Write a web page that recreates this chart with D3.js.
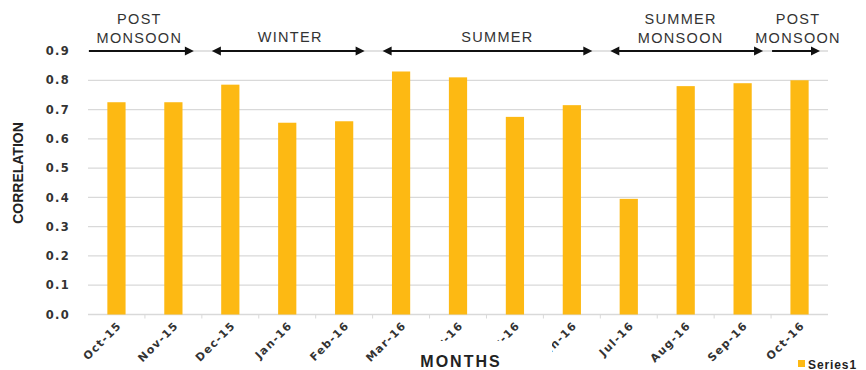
<!DOCTYPE html>
<html>
<head>
<meta charset="utf-8">
<script src="https://cdn.jsdelivr.net/npm/d3@7/dist/d3.min.js"></script>
<style>
  html, body { margin: 0; padding: 0; background: #fff; }
  svg { display: block; }
</style>
</head>
<body>
<svg id="chart" width="866" height="370"></svg>
<script>
// ---- data ----
const months = ["Oct-15","Nov-15","Dec-15","Jan-16","Feb-16","Mar-16","Apr-16","May-16","Jun-16","Jul-16","Aug-16","Sep-16","Oct-16"];
const correlation = [0.725,0.725,0.785,0.655,0.66,0.83,0.81,0.675,0.715,0.395,0.78,0.79,0.80];
const yTicks = [0,0.1,0.2,0.3,0.4,0.5,0.6,0.7,0.8,0.9];
const seasonNames = [["POST","MONSOON"],["WINTER"],["SUMMER"],["SUMMER","MONSOON"],["POST","MONSOON"]];
const seasonStart = ["Oct-15","Dec-15","Mar-16","Jul-16","Oct-16"];
const seasonEnd = ["Nov-15","Feb-16","Jun-16","Sep-16","Oct-16"];
const seasonBothHeads = [false,true,true,true,false];
const seriesName = "Series1";
const xTitle = "MONTHS";
const yTitle = "CORRELATION";

// ---- layout ----
const svg = d3.select("#chart");
const plot = {left: 88, right: 828, top: 51, bottom: 314.5};
const barColor = "#FDB913";
const gridColor = "#d9d9d9";
const seasonLabelDx = [-2, 2, 10, -6, 2];

const x = d3.scaleBand().domain(months).range([plot.left, plot.right]).paddingInner(0.68).paddingOuter(0.34);
const xCell = d3.scaleBand().domain(months).range([plot.left, plot.right]).padding(0);
const y = d3.scaleLinear().domain([0, 0.9]).range([plot.bottom, plot.top]);

// gridlines
svg.append("g").selectAll("line").data(yTicks).join("line")
  .attr("x1", plot.left).attr("x2", plot.right)
  .attr("y1", d => y(d)).attr("y2", d => y(d))
  .attr("stroke", gridColor).attr("stroke-width", 1.3);

// y tick labels
const yAxis = d3.axisLeft(y).tickValues(yTicks).tickFormat(d3.format(".1f")).tickSize(0).tickPadding(0);
const gy = svg.append("g").attr("transform", `translate(70,0)`).call(yAxis);
gy.select(".domain").remove();
gy.selectAll("text")
  .attr("font-family", "DejaVu Sans").attr("font-weight", "bold")
  .attr("font-size", 11.5).attr("letter-spacing", 1.3).attr("fill", "#333");

// bars
svg.append("g").selectAll("rect").data(months).join("rect")
  .attr("x", d => x(d))
  .attr("width", x.bandwidth())
  .attr("y", (d, i) => y(correlation[i]))
  .attr("height", (d, i) => y(0) - y(correlation[i]))
  .attr("fill", barColor);

// x axis category boundary ticks
svg.append("g").selectAll("line").data(months.slice(1)).join("line")
  .attr("x1", d => xCell(d)).attr("x2", d => xCell(d))
  .attr("y1", plot.bottom).attr("y2", plot.bottom + 4)
  .attr("stroke", gridColor).attr("stroke-width", 1);

// x labels rotated
svg.append("g").selectAll("text").data(months).join("text")
  .attr("transform", d => `translate(${x(d) + x.bandwidth() / 2 + 3},${plot.bottom + 9}) rotate(-45)`)
  .attr("text-anchor", "end")
  .attr("dy", "0.35em")
  .attr("font-family", "DejaVu Sans").attr("font-weight", "bold")
  .attr("font-size", 11).attr("letter-spacing", 1.3).attr("fill", "#333")
  .text(d => d);

// x title with white background
svg.append("rect").attr("x", 405).attr("y", 341).attr("width", 147).attr("height", 29).attr("fill", "#fff");
svg.append("text")
  .attr("x", 461).attr("y", 367).attr("text-anchor", "middle")
  .attr("font-family", "Liberation Sans").attr("font-weight", "bold")
  .attr("font-size", 16).attr("letter-spacing", 2).attr("fill", "#222")
  .text(xTitle);

// y title
svg.append("text")
  .attr("transform", `translate(23,173) rotate(-90)`)
  .attr("text-anchor", "middle")
  .attr("font-family", "Liberation Sans").attr("font-weight", "bold")
  .attr("font-size", 14).attr("fill", "#222")
  .text(yTitle);

// season arrows
const ay = y(0.9);
const headL = 9, headW = 4.5;
const gs = svg.append("g");
seasonNames.forEach((names, i) => {
  const both = seasonBothHeads[i];
  const x0 = xCell(seasonStart[i]) + (both ? 10 : 1);
  const x1 = xCell(seasonEnd[i]) + xCell.step() - 8;
  gs.append("line")
    .attr("x1", both ? x0 + headL - 1 : x0).attr("x2", x1 - headL + 1)
    .attr("y1", ay).attr("y2", ay)
    .attr("stroke", "#111").attr("stroke-width", 2);
  gs.append("path")
    .attr("d", `M${x1},${ay}L${x1 - headL},${ay - headW}L${x1 - headL},${ay + headW}Z`)
    .attr("fill", "#111");
  if (both) {
    gs.append("path")
      .attr("d", `M${x0},${ay}L${x0 + headL},${ay - headW}L${x0 + headL},${ay + headW}Z`)
      .attr("fill", "#111");
  }
  const cx = (x0 + x1) / 2 + seasonLabelDx[i];
  const baselines = names.length === 2 ? [24, 43] : [42];
  names.forEach((t, j) => {
    gs.append("text")
      .attr("x", cx).attr("y", baselines[j])
      .attr("text-anchor", "middle")
      .attr("font-family", "Liberation Sans")
      .attr("font-size", 14.5).attr("letter-spacing", 1.3).attr("fill", "#333")
      .text(t);
  });
});

// legend
svg.append("rect").attr("x", 798).attr("y", 360).attr("width", 7).attr("height", 7).attr("fill", barColor);
svg.append("text")
  .attr("x", 808).attr("y", 368.5)
  .attr("font-family", "Liberation Sans").attr("font-weight", "bold")
  .attr("font-size", 12).attr("letter-spacing", 0.9).attr("fill", "#222")
  .text(seriesName);
</script>
</body>
</html>
